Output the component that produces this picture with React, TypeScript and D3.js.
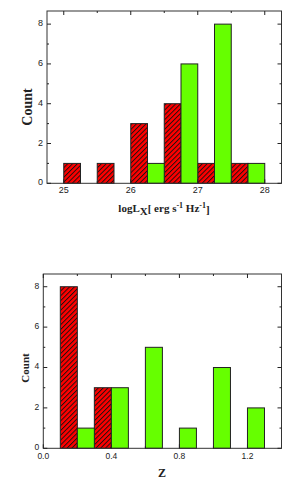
import React from "react"
import * as d3 from "d3"

// top panel: log L_X histogram
const lxRedStart = [25, 25.5, 26, 26.5, 27, 27.5]
const lxRedCount = [1, 1, 3, 4, 1, 1]
const lxGreenStart = [26.25, 26.75, 27.25, 27.75]
const lxGreenCount = [1, 6, 8, 1]
const lxMajor = [25, 26, 27, 28]
const lxMinor = [25.5, 26.5, 27.5]

// bottom panel: redshift histogram
const zRedStart = [0.1, 0.3]
const zRedCount = [8, 3]
const zGreenStart = [0.2, 0.4, 0.6, 0.8, 1.0, 1.2]
const zGreenCount = [1, 3, 5, 1, 4, 2]
const zMajor = [0, 0.4, 0.8, 1.2]
const zMinor = [0.2, 0.6, 1.0]

const countMajor = [0, 2, 4, 6, 8]
const countMinor = [1, 3, 5, 7]

const RED = "#ff0000"
const GREEN = "#66ff00"
const INK = "#222"
const SANS = "'Liberation Sans', Arial, sans-serif"
const SERIF = "'Liberation Serif', 'Times New Roman', serif"

type PanelProps = {
    box: { left: number; right: number; top: number; bottom: number }
    xDomain: [number, number]
    yMax: number
    binWidth: number
    red: { start: number[]; count: number[] }
    green: { start: number[]; count: number[] }
    xMajor: number[]
    xMinor: number[]
    xFmt: (v: number) => string
    tickSize: number
    labelGap: number
    countFont: number
    countPos: [number, number]
    xTitle: React.ReactNode
}

const Panel = (p: PanelProps) => {
    const { box } = p
    const x = d3.scaleLinear().domain(p.xDomain).range([box.left, box.right])
    const y = d3.scaleLinear().domain([0, p.yMax]).range([box.bottom, box.top])

    const bars = (s: { start: number[]; count: number[] }, fill: string) =>
        s.start.map((st, i) => (
            <rect
                key={i}
                x={x(st)}
                y={y(s.count[i])}
                width={x(st + p.binWidth) - x(st)}
                height={y(0) - y(s.count[i])}
                fill={fill}
                stroke={INK}
                strokeWidth={1}
            />
        ))

    const xTicks = (vals: number[], len: number) =>
        vals.map((v, i) => (
            <g key={i} stroke={INK} strokeWidth={1}>
                <line x1={x(v)} x2={x(v)} y1={box.bottom} y2={box.bottom - len} />
                <line x1={x(v)} x2={x(v)} y1={box.top} y2={box.top + len} />
            </g>
        ))
    const yTicks = (vals: number[], len: number) =>
        vals.map((v, i) => (
            <g key={i} stroke={INK} strokeWidth={1}>
                <line x1={box.left} x2={box.left + len} y1={y(v)} y2={y(v)} />
                <line x1={box.right} x2={box.right - len} y1={y(v)} y2={y(v)} />
            </g>
        ))

    return (
        <g>
            {bars(p.red, "url(#hatch)")}
            {bars(p.green, GREEN)}
            <rect
                x={box.left}
                y={box.top}
                width={box.right - box.left}
                height={box.bottom - box.top}
                fill="none"
                stroke="#333"
                strokeWidth={1}
            />
            {xTicks(p.xMajor, 4)}
            {xTicks(p.xMinor, 2)}
            {yTicks(countMajor, 4)}
            {yTicks(countMinor, 2)}
            {p.xMajor.map((v, i) => (
                <text
                    key={i}
                    x={x(v)}
                    y={box.bottom + p.labelGap}
                    textAnchor="middle"
                    fontFamily={SANS}
                    fontSize={p.tickSize}
                    fill={INK}
                >
                    {p.xFmt(v)}
                </text>
            ))}
            {countMajor.map((v, i) => (
                <text
                    key={i}
                    x={box.left - 4}
                    y={y(v) - 1}
                    dy="0.35em"
                    textAnchor="end"
                    fontFamily={SANS}
                    fontSize={p.tickSize}
                    fill={INK}
                >
                    {v}
                </text>
            ))}
            <text
                transform={`translate(${p.countPos[0]},${p.countPos[1]}) rotate(-90)`}
                textAnchor="middle"
                fontFamily={SERIF}
                fontWeight="bold"
                fontSize={p.countFont}
                fill={INK}
            >
                Count
            </text>
            {p.xTitle}
        </g>
    )
}

export default function App() {
    const topBox = { left: 47, right: 281.5, top: 11, bottom: 183.3 }
    const botBox = { left: 43.3, right: 281.5, top: 274, bottom: 448.3 }
    return (
        <svg
            width={300}
            height={490}
            style={{ position: "absolute", left: 0, top: 0, background: "#fff" }}
        >
            <defs>
                <pattern
                    id="hatch"
                    width={3.4}
                    height={3.4}
                    patternUnits="userSpaceOnUse"
                    patternTransform="rotate(45)"
                >
                    <rect width={3.4} height={3.4} fill={RED} />
                    <line x1={0.5} x2={0.5} y1={0} y2={3.4} stroke="#111" strokeWidth={0.9} />
                </pattern>
            </defs>
            <Panel
                box={topBox}
                xDomain={[24.75, 28.25]}
                yMax={8.66}
                binWidth={0.25}
                red={{ start: lxRedStart, count: lxRedCount }}
                green={{ start: lxGreenStart, count: lxGreenCount }}
                xMajor={lxMajor}
                xMinor={lxMinor}
                xFmt={(v) => String(v)}
                tickSize={9}
                labelGap={10}
                countFont={14}
                countPos={[31.5, 107]}
                xTitle={
                    <text
                        x={164}
                        y={212}
                        textAnchor="middle"
                        fontFamily={SERIF}
                        fontWeight="bold"
                        fontSize={11}
                        fill={INK}
                    >
                        logL
                        <tspan dy={3}>X</tspan>
                        <tspan dy={-3}>[ erg s</tspan>
                        <tspan dy={-4} fontSize={8}>-1</tspan>
                        <tspan dy={4}> Hz</tspan>
                        <tspan dy={-4} fontSize={8}>-1</tspan>
                        <tspan dy={5}>]</tspan>
                    </text>
                }
            />
            <Panel
                box={botBox}
                xDomain={[0, 1.4]}
                yMax={8.63}
                binWidth={0.1}
                red={{ start: zRedStart, count: zRedCount }}
                green={{ start: zGreenStart, count: zGreenCount }}
                xMajor={zMajor}
                xMinor={zMinor}
                xFmt={d3.format(".1f")}
                tickSize={8.5}
                labelGap={11}
                countFont={11}
                countPos={[29, 368]}
                xTitle={
                    <text
                        x={162}
                        y={477}
                        textAnchor="middle"
                        fontFamily={SERIF}
                        fontWeight="bold"
                        fontSize={12}
                        fill={INK}
                    >
                        Z
                    </text>
                }
            />
        </svg>
    )
}
